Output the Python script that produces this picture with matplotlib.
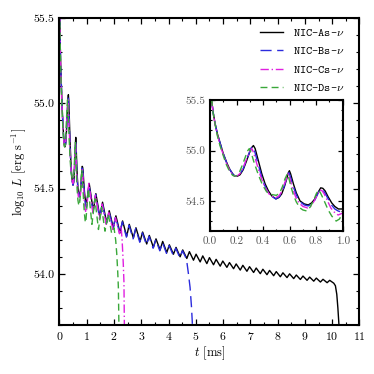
import matplotlib
matplotlib.use('Agg')
import matplotlib.pyplot as plt
from matplotlib.ticker import MultipleLocator

plt.rcParams['font.family'] = 'cmr10'
plt.rcParams['mathtext.fontset'] = 'cm'
plt.rcParams['axes.unicode_minus'] = False
plt.rcParams['axes.formatter.use_mathtext'] = True

# luminosity curves, log10 L [erg/s] vs t [ms]
tA = [0.0, 0.012, 0.025, 0.038, 0.055, 0.075, 0.10, 0.126, 0.15, 0.176, 0.19, 0.205,
      0.226, 0.25, 0.276, 0.30, 0.314, 0.327, 0.34, 0.364, 0.39, 0.415, 0.44, 0.465,
      0.497, 0.52, 0.54, 0.56, 0.578, 0.59, 0.598, 0.607, 0.628, 0.65, 0.678, 0.71,
      0.74, 0.765, 0.79, 0.812, 0.834, 0.85, 0.867, 0.89, 0.917, 0.94, 0.967, 1.0,
      1.09, 1.24, 1.335, 1.485, 1.58, 1.73, 1.825, 1.975, 2.07, 2.22, 2.315, 2.465,
      2.56, 2.71, 2.805, 2.955, 3.05, 3.20, 3.295, 3.445, 3.54, 3.69, 3.785, 3.935,
      4.03, 4.18, 4.275, 4.425, 4.52, 4.67, 4.765, 4.915, 5.01, 5.16, 5.255, 5.405,
      5.50, 5.65, 5.745, 5.895, 5.99, 6.14, 6.235, 6.385, 6.48, 6.63, 6.725, 6.875,
      6.97, 7.12, 7.215, 7.365, 7.46, 7.61, 7.705, 7.855, 7.95, 8.10, 8.195, 8.345,
      8.44, 8.59, 8.685, 8.835, 8.93, 9.08, 9.175, 9.325, 9.42, 9.57, 9.665, 9.815,
      9.91, 10.06, 10.12, 10.17, 10.21, 10.25, 10.27]
LA = [55.62, 55.50, 55.37, 55.27, 55.17, 55.08, 54.97, 54.88, 54.81, 54.76, 54.745, 54.745,
      54.76, 54.81, 54.90, 54.99, 55.03, 55.05, 55.02, 54.90, 54.77, 54.67, 54.60, 54.55,
      54.52, 54.535, 54.57, 54.64, 54.72, 54.78, 54.80, 54.77, 54.67, 54.58, 54.50, 54.47,
      54.46, 54.48, 54.52, 54.58, 54.63, 54.625, 54.60, 54.54, 54.48, 54.445, 54.42, 54.42,
      54.53, 54.37, 54.47, 54.33, 54.42, 54.30, 54.37, 54.27, 54.34, 54.24, 54.31, 54.22,
      54.29, 54.21, 54.27, 54.19, 54.245, 54.175, 54.225, 54.155, 54.205, 54.14, 54.19, 54.125,
      54.17, 54.115, 54.155, 54.10, 54.14, 54.09, 54.13, 54.08, 54.115, 54.07, 54.105, 54.06,
      54.095, 54.053, 54.085, 54.045, 54.075, 54.038, 54.066, 54.03, 54.058, 54.022, 54.05, 54.015,
      54.042, 54.008, 54.034, 54.001, 54.027, 53.995, 54.020, 53.989, 54.013, 53.983, 54.006, 53.978,
      54.000, 53.972, 53.993, 53.967, 53.987, 53.962, 53.981, 53.957, 53.975, 53.952, 53.968, 53.948,
      53.962, 53.945, 53.93, 53.88, 53.80, 53.70, 53.60]

tB = [0.0, 0.012, 0.025, 0.038, 0.055, 0.075, 0.10, 0.125, 0.15, 0.175, 0.19, 0.205,
      0.225, 0.25, 0.275, 0.30, 0.312, 0.322, 0.335, 0.36, 0.385, 0.41, 0.435, 0.46,
      0.495, 0.52, 0.54, 0.56, 0.577, 0.594, 0.603, 0.625, 0.65, 0.675, 0.71, 0.74,
      0.765, 0.79, 0.812, 0.832, 0.85, 0.865, 0.89, 0.915, 0.94, 0.965, 0.99, 1.0,
      1.08, 1.23, 1.325, 1.475, 1.57, 1.72, 1.815, 1.965, 2.06, 2.21, 2.305, 2.455,
      2.55, 2.70, 2.795, 2.945, 3.04, 3.19, 3.285, 3.435, 3.53, 3.68, 3.775, 3.925,
      4.02, 4.17, 4.265, 4.415, 4.51, 4.62, 4.68, 4.73, 4.79, 4.84, 4.87, 4.89]
LB = [55.62, 55.50, 55.37, 55.27, 55.17, 55.08, 54.97, 54.88, 54.81, 54.76, 54.745, 54.745,
      54.765, 54.82, 54.91, 54.99, 55.03, 55.04, 55.00, 54.88, 54.76, 54.66, 54.59, 54.55,
      54.52, 54.54, 54.58, 54.65, 54.73, 54.78, 54.75, 54.65, 54.56, 54.495, 54.46, 54.45,
      54.47, 54.51, 54.57, 54.62, 54.61, 54.58, 54.52, 54.46, 54.42, 54.40, 54.39, 54.40,
      54.525, 54.365, 54.465, 54.325, 54.415, 54.295, 54.365, 54.265, 54.335, 54.235, 54.305, 54.215,
      54.285, 54.205, 54.265, 54.185, 54.24, 54.17, 54.22, 54.15, 54.20, 54.135, 54.185, 54.12,
      54.165, 54.11, 54.15, 54.095, 54.135, 54.10, 54.06, 54.00, 53.92, 53.81, 53.72, 53.60]

tC = [0.0, 0.012, 0.025, 0.04, 0.055, 0.075, 0.10, 0.125, 0.15, 0.175, 0.19, 0.205,
      0.225, 0.25, 0.27, 0.29, 0.305, 0.315, 0.328, 0.35, 0.375, 0.40, 0.425, 0.45,
      0.49, 0.515, 0.535, 0.555, 0.575, 0.59, 0.60, 0.62, 0.645, 0.67, 0.70, 0.735,
      0.76, 0.785, 0.808, 0.828, 0.845, 0.86, 0.885, 0.91, 0.935, 0.965, 1.0,
      1.075, 1.225, 1.32, 1.47, 1.565, 1.715, 1.81, 1.96, 2.055, 2.20, 2.26, 2.30,
      2.34, 2.365, 2.38, 2.39]
LC = [55.62, 55.50, 55.36, 55.25, 55.16, 55.06, 54.96, 54.87, 54.80, 54.755, 54.745, 54.75,
      54.77, 54.83, 54.90, 54.96, 55.00, 55.02, 54.98, 54.88, 54.77, 54.68, 54.61, 54.56,
      54.53, 54.545, 54.58, 54.65, 54.72, 54.77, 54.73, 54.63, 54.54, 54.48, 54.445, 54.43,
      54.45, 54.50, 54.56, 54.61, 54.60, 54.57, 54.50, 54.43, 54.39, 54.36, 54.38,
      54.53, 54.36, 54.46, 54.32, 54.41, 54.29, 54.36, 54.26, 54.33, 54.235, 54.28, 54.19,
      54.06, 53.95, 53.70, 53.60]

tD = [0.0, 0.012, 0.025, 0.04, 0.055, 0.075, 0.10, 0.12, 0.145, 0.17, 0.185, 0.20,
      0.22, 0.245, 0.27, 0.285, 0.296, 0.31, 0.33, 0.364, 0.395, 0.427, 0.46, 0.50,
      0.525, 0.545, 0.565, 0.583, 0.595, 0.61, 0.628, 0.65, 0.678, 0.70, 0.729, 0.755,
      0.779, 0.80, 0.817, 0.832, 0.85, 0.867, 0.89, 0.917, 0.95, 0.975, 1.0,
      1.06, 1.19, 1.30, 1.43, 1.545, 1.67, 1.79, 1.91, 2.0, 2.06, 2.10, 2.14,
      2.16, 2.18, 2.19]
LD = [55.62, 55.50, 55.36, 55.25, 55.15, 55.05, 54.95, 54.87, 54.80, 54.755, 54.745, 54.75,
      54.78, 54.86, 54.95, 55.00, 55.02, 54.98, 54.89, 54.76, 54.66, 54.59, 54.565, 54.555,
      54.58, 54.64, 54.72, 54.77, 54.72, 54.64, 54.56, 54.49, 54.43, 54.41, 54.40, 54.44,
      54.50, 54.57, 54.61, 54.58, 54.53, 54.48, 54.41, 54.35, 54.30, 54.32, 54.38,
      54.50, 54.29, 54.44, 54.26, 54.39, 54.25, 54.35, 54.24, 54.27, 54.20, 54.12, 54.00,
      53.92, 53.70, 53.60]

labels = ['NIC-As-$\\nu$', 'NIC-Bs-$\\nu$', 'NIC-Cs-$\\nu$', 'NIC-Ds-$\\nu$']
series = [(tA, LA), (tB, LB), (tC, LC), (tD, LD)]
colors = ['black', '#2b2bdd', '#e020e0', '#3aa83a']
dashes = [None, (8, 4), (6, 2, 1, 2), (5, 3)]


def draw(ax):
    for (t, L), c, d, lab in zip(series, colors, dashes, labels):
        if d is None:
            ax.plot(t, L, color=c, lw=1.0, label=lab)
        else:
            ax.plot(t, L, color=c, lw=1.0, dashes=d, label=lab)


def style(ax, tl):
    ax.tick_params(which='both', direction='in', top=True, right=True)
    ax.tick_params(which='major', length=tl, width=0.9)
    ax.tick_params(which='minor', length=tl / 2, width=0.8)
    for s in ax.spines.values():
        s.set_linewidth(1.5)


fig = plt.figure(figsize=(3.74, 3.74), dpi=100)
ax = fig.add_axes([0.159, 0.131, 0.802, 0.821])
draw(ax)
ax.set_xlim(0, 11)
ax.set_ylim(53.7, 55.5)
ax.xaxis.set_major_locator(MultipleLocator(1))
ax.xaxis.set_minor_locator(MultipleLocator(0.5))
ax.yaxis.set_major_locator(MultipleLocator(0.5))
ax.yaxis.set_minor_locator(MultipleLocator(0.1))
ax.yaxis.set_major_formatter(plt.FormatStrFormatter('%.1f'))
style(ax, 4)
ax.tick_params(labelsize=8.5)
ax.set_xlabel('$t$ [ms]', fontsize=9, labelpad=2)
ax.set_ylabel('$\\log_{10}\\,L$ [erg s$^{-1}$]', fontsize=9, labelpad=4)

leg = ax.legend(loc='upper right', bbox_to_anchor=(0.952, 0.968), frameon=False,
                handlelength=2.0, handletextpad=0.85, labelspacing=0.6,
                borderaxespad=0, borderpad=0,
                prop={'family': 'cmtt10', 'size': 8.5})

ins = fig.add_axes([0.5615, 0.382, 0.355, 0.350])
draw(ins)
ins.set_xlim(0, 1)
ins.set_ylim(54.2, 55.5)
ins.xaxis.set_major_locator(MultipleLocator(0.2))
ins.xaxis.set_minor_locator(MultipleLocator(0.1))
ins.yaxis.set_major_locator(MultipleLocator(0.5))
ins.yaxis.set_minor_locator(MultipleLocator(0.1))
ins.xaxis.set_major_formatter(plt.FormatStrFormatter('%.1f'))
ins.yaxis.set_major_formatter(plt.FormatStrFormatter('%.1f'))
style(ins, 3.5)
ins.tick_params(labelsize=8, labelcolor='#555555')

fig.savefig('out.png', dpi=100)
